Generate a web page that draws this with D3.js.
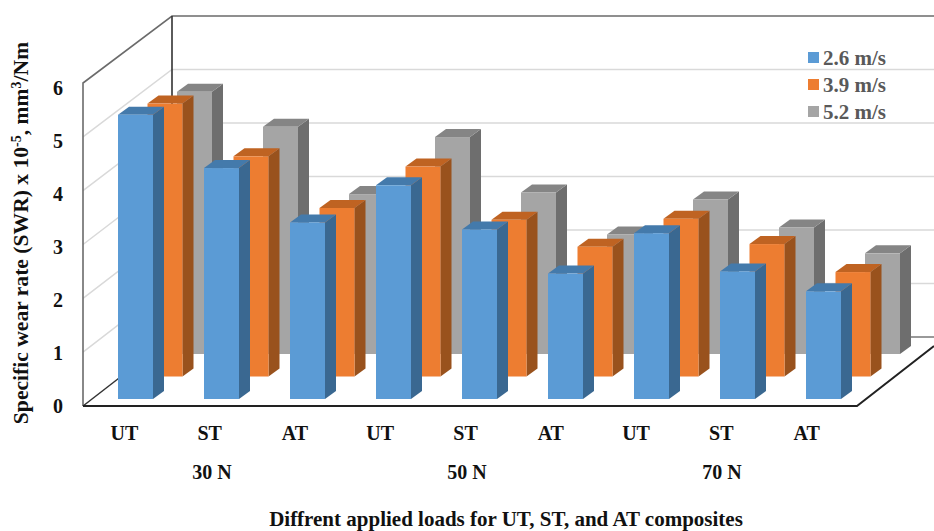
<!DOCTYPE html>
<html>
<head>
<meta charset="utf-8">
<script src="https://cdn.jsdelivr.net/npm/d3@7"></script>
<style>
body { margin: 0; background: #fff; }
text { font-family: "Liberation Serif", serif; font-weight: bold; }
</style>
</head>
<body>
<svg id="chart" width="934" height="531"></svg>
<script>
const bar_labels = ["UT", "ST", "AT", "UT", "ST", "AT", "UT", "ST", "AT"];
const load_labels = ["30 N", "50 N", "70 N"];
const speeds = ["2.6 m/s", "3.9 m/s", "5.2 m/s"];
const speed_26 = [5.28, 4.29, 3.28, 3.97, 3.15, 2.33, 3.08, 2.37, 2.0];
const speed_39 = [5.07, 4.09, 3.13, 3.9, 2.91, 2.41, 2.93, 2.46, 1.94];
const speed_52 = [4.87, 4.22, 2.97, 4.03, 3.0, 2.22, 2.87, 2.35, 1.87];
const y_ticks = [0, 1, 2, 3, 4, 5, 6];

const svg = d3.select("#chart");
const series = [speed_26, speed_39, speed_52];

const front_x = 83, right_x = 857, back_x = 172;

// front plane and back wall are slightly different in the picture
const y = d3.scaleLinear().domain([0, 6]).range([406, 83]);
const y_back = d3.scaleLinear().domain([0, 6]).range([337, 16]);
const height = (v) => y(0) - y(v);

const x = d3.scaleBand().domain(d3.range(9)).range([118, 841]).paddingInner(0.593).paddingOuter(0);
const depth = d3.scaleLinear().domain([0, 2]);
const depth_x = depth.copy().range([0, 59]);
const depth_y = depth.copy().range([399, 354]);
const side_dx = 11, side_dy = 8;

const fills = ["#5B9BD5", "#ED7D31", "#A5A5A5"];
const sides = ["#3A6891", "#99521D", "#6E6E6E"];
const tops = ["#447AAB", "#BF6322", "#858585"];

// gridlines on the left wall and the back wall
y_ticks.slice(1, 6).forEach((t) => {
    svg.append("polyline")
        .attr("points", [[front_x, y(t)], [back_x, y_back(t)], [934, y_back(t)]].join(" "))
        .attr("fill", "none")
        .attr("stroke", "#d9d9d9")
        .attr("stroke-width", 1.5);
});

// box frame
const frame = [
    [[front_x, y(0)], [front_x, y(6)], [back_x, y_back(6)], [934, y_back(6)], "#6b6b6b", 1.6],
    [[back_x, y_back(6)], [back_x, y_back(0)], "#333", 1.6],
    [[back_x, y_back(0)], [934, y_back(0)], "#777", 1.5],
    [[front_x, y(0)], [back_x, y_back(0)], "#333", 1.5],
    [[front_x, y(0)], [right_x, y(0)], [934, y(0) - 60], "#222", 2]
];
frame.forEach((f) => {
    const pts = f.slice(0, -2);
    svg.append("polyline")
        .attr("points", pts.join(" "))
        .attr("fill", "none")
        .attr("stroke", f[f.length - 2])
        .attr("stroke-width", f[f.length - 1]);
});

// bars, back row first so the front rows cover it
d3.range(2, -1, -1).forEach((s) => {
    const row = svg.append("g").attr("class", "row-" + s);
    const w = x.bandwidth();
    const left = (i) => x(i) + depth_x(s);
    const base = depth_y(s);

    row.selectAll(".side").data(series[s]).enter().append("polygon")
        .attr("fill", sides[s])
        .attr("points", (d, i) => {
            const r = left(i) + w, t = base - height(d);
            return [[r, base], [r + side_dx, base - side_dy], [r + side_dx, t - side_dy], [r, t]].join(" ");
        });

    row.selectAll(".top").data(series[s]).enter().append("polygon")
        .attr("fill", tops[s])
        .attr("points", (d, i) => {
            const l = left(i), t = base - height(d);
            return [[l, t], [l + side_dx, t - side_dy], [l + w + side_dx, t - side_dy], [l + w, t]].join(" ");
        });

    row.selectAll(".front").data(series[s]).enter().append("rect")
        .attr("fill", fills[s])
        .attr("x", (d, i) => left(i))
        .attr("y", (d) => base - height(d))
        .attr("width", w)
        .attr("height", (d) => height(d));
});

// value axis, labels run on their own slightly tighter spacing
const y_labels = d3.scaleLinear().domain([0, 6]).range([406, 88]);
svg.append("g")
    .attr("transform", "translate(" + (front_x - 17) + ",0)")
    .call(d3.axisLeft(y_labels).tickValues(y_ticks).tickFormat(d3.format("d")).tickSize(0))
    .call((g) => g.select(".domain").remove())
    .selectAll("text")
    .attr("font-size", 20)
    .attr("fill", "#111")
    .style("font-family", "Liberation Serif")
    .style("font-weight", "bold");

// category labels sit a bit left of the bars
const x_labels = d3.scaleBand().domain(d3.range(9)).range([107, 824]).paddingInner(0.593).paddingOuter(0);
svg.append("g")
    .attr("transform", "translate(0,423)")
    .call(d3.axisBottom(x_labels).tickFormat((i) => bar_labels[i]).tickSize(0))
    .call((g) => g.select(".domain").remove())
    .selectAll("text")
    .attr("font-size", 20)
    .attr("fill", "#111")
    .style("font-family", "Liberation Serif")
    .style("font-weight", "bold");

const x_loads = d3.scalePoint().domain(load_labels).range([212, 722]);
svg.append("g").selectAll("text").data(load_labels).enter().append("text")
    .attr("x", (d) => x_loads(d))
    .attr("y", 479)
    .attr("text-anchor", "middle")
    .attr("font-size", 20)
    .attr("fill", "#111")
    .text((d) => d);

svg.append("text")
    .attr("x", 506)
    .attr("y", 526)
    .attr("text-anchor", "middle")
    .attr("font-size", 21)
    .attr("fill", "#111")
    .text("Diffrent applied loads for UT, ST, and AT composites");

const y_title = svg.append("text")
    .attr("transform", "translate(28,233) rotate(-90)")
    .attr("text-anchor", "middle")
    .attr("font-size", 21.6)
    .attr("fill", "#111");
y_title.append("tspan").text("Specific wear rate (SWR) x 10");
y_title.append("tspan").attr("dy", -7).attr("font-size", 14).text("-5");
y_title.append("tspan").attr("dy", 7).text(", mm");
y_title.append("tspan").attr("dy", -7).attr("font-size", 14).text("3");
y_title.append("tspan").attr("dy", 7).text("/Nm");

// legend
const legend = svg.append("g").attr("transform", "translate(808,52)");
speeds.forEach((speed, i) => {
    legend.append("rect")
        .attr("x", 0)
        .attr("y", i * 27)
        .attr("width", 11)
        .attr("height", 11)
        .attr("fill", fills[i]);
    legend.append("text")
        .attr("x", 15)
        .attr("y", i * 27 + 13)
        .attr("font-size", 21)
        .attr("fill", "#595959")
        .text(speed);
});
</script>
</body>
</html>
